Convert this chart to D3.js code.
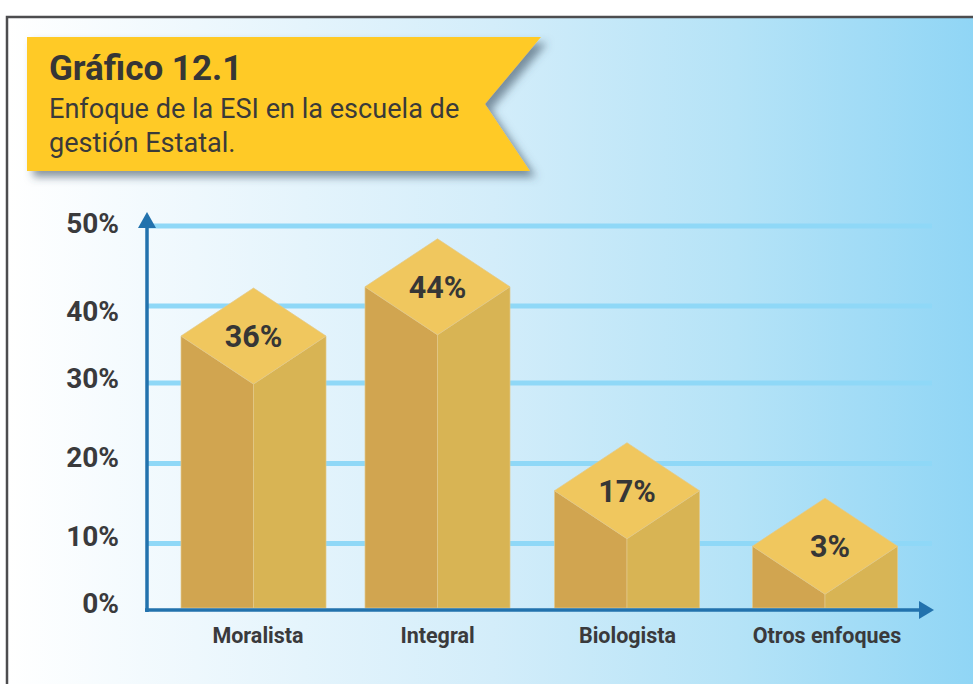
<!DOCTYPE html>
<html lang="es"><head><meta charset="utf-8">
<script src="https://cdn.jsdelivr.net/npm/d3@7/dist/d3.min.js"></script>
<style>html,body{margin:0;padding:0;background:#fff}svg{display:block}text{font-family:Roboto,sans-serif}</style>
</head><body><svg id="c" width="973" height="684"></svg>
<script>
const categories = ["Moralista","Integral","Biologista","Otros enfoques"];
const valueLabels = ["36%","44%","17%","3%"];
// height of each drawn column read against the (unevenly spaced) printed axis
const drawnLevels = [36.1,42.4,16.6,9.6];
const tickValues = [0,10,20,30,40,50];
const tickLabels = ["0%","10%","20%","30%","40%","50%"];
const titleText = "Gráfico 12.1";
const subtitleLines = ["Enfoque de la ESI en la escuela de","gestión Estatal."];

const svg = d3.select("#c");
const W=973,H=684;
const defs = svg.append("defs");
const g = defs.append("linearGradient").attr("id","bg");
[[0,"#ffffff"],[.5,"#d3edfa"],[.75,"#b5e3f7"],[1,"#8fd5f5"]].forEach(s=>g.append("stop").attr("offset",s[0]).attr("stop-color",s[1]));
const f = defs.append("filter").attr("id","sh").attr("x","-5%").attr("y","-10%").attr("width","115%").attr("height","130%");
f.append("feDropShadow").attr("dx",6).attr("dy",6).attr("stdDeviation",4).attr("flood-color","#3a5060").attr("flood-opacity",.6);

svg.append("rect").attr("x",7).attr("y",17).attr("width",W).attr("height",H).attr("fill","url(#bg)").attr("stroke","#4d4d4f").attr("stroke-width",2.5);

// banner
svg.append("path").attr("d",d3.line()([[27,37],[541,37],[485,104],[530,171],[27,171]])+"Z").attr("fill","#ffca28").attr("filter","url(#sh)");
svg.append("text").attr("x",49).attr("y",80).attr("font-size",35).attr("font-weight",700).attr("fill","#363636").text(titleText);
subtitleLines.forEach((t,i)=>svg.append("text").attr("x",49).attr("y",118+i*33.5).attr("font-size",27.1).attr("fill","#3a3a3a").text(t));

// scales: the printed axis is unevenly spaced
const y = d3.scaleLinear().domain(tickValues).range([610,543.5,463.5,383,306,226]);
const yLabel = d3.scaleOrdinal().domain(tickValues).range([604,537,458,379,312,224]);
const x = d3.scaleOrdinal().domain(categories).range([253.5,437.5,627,825]);
const xLabel = d3.scaleOrdinal().domain(categories).range([258,437.5,627.5,827]);

// gridlines
const axisColor="#2272ad";
svg.append("g").selectAll("line").data(tickValues.filter(d=>d>0)).join("line")
  .attr("x1",147).attr("x2",932).attr("y1",d=>y(d)).attr("y2",d=>y(d))
  .attr("stroke","#8fd8f7").attr("stroke-width",5);

// tick labels through a d3 axis
const yAxis = d3.axisLeft(d3.scaleIdentity()).tickValues(tickValues.map(v=>yLabel(v)))
  .tickFormat((d,i)=>tickLabels[i]).tickSize(0).tickPadding(0);
const ya = svg.append("g").attr("transform","translate(119,0)").call(yAxis);
ya.select(".domain").remove();
ya.selectAll("text").attr("font-size",28).attr("font-weight",700).attr("fill","#3a3a3c").attr("font-family","Roboto,sans-serif");

// columns
const hw=72.5, dy=48, base=y(0)-2;
const bars = svg.append("g").selectAll("g").data(categories.map((c,i)=>({c,i,l:drawnLevels[i],t:valueLabels[i]}))).join("g");
const edge="#e3c98a";
const line=d3.line();
bars.append("path").attr("fill","#d1a550").attr("stroke",edge).attr("stroke-width",.7)
  .attr("d",d=>{const X=x(d.c),Y=y(d.l);return line([[X-hw,Y],[X,Y+dy],[X,base],[X-hw,base]])+"Z"});
bars.append("path").attr("fill","#d8b454").attr("stroke",edge).attr("stroke-width",.7)
  .attr("d",d=>{const X=x(d.c),Y=y(d.l);return line([[X+hw,Y],[X,Y+dy],[X,base],[X+hw,base]])+"Z"});
bars.append("path").attr("fill","#f0c75e").attr("stroke",edge).attr("stroke-width",.7)
  .attr("d",d=>{const X=x(d.c),Y=y(d.l);return line([[X-hw,Y],[X,Y-dy],[X+hw,Y],[X,Y+dy]])+"Z"});
const valueDx=[0,0,0,5];
bars.append("text").attr("x",d=>x(d.c)+valueDx[d.i]).attr("y",d=>y(d.l)+11).attr("text-anchor","middle")
  .attr("font-size",30.5).attr("font-weight",700).attr("fill","#363636").text(d=>d.t);

// axis lines and arrows
svg.append("line").attr("x1",147).attr("x2",147).attr("y1",226).attr("y2",612).attr("stroke",axisColor).attr("stroke-width",3.5);
svg.append("line").attr("x1",145).attr("x2",920).attr("y1",610).attr("y2",610).attr("stroke",axisColor).attr("stroke-width",3.5);
svg.append("path").attr("d",line([[147,212],[156,228],[138,228]])+"Z").attr("fill",axisColor);
svg.append("path").attr("d",line([[934,610],[919,601],[919,619]])+"Z").attr("fill",axisColor);

// category labels
svg.append("g").selectAll("text").data(categories).join("text")
  .attr("x",d=>xLabel(d)).attr("y",643).attr("text-anchor","middle")
  .attr("font-size",21.5).attr("font-weight",700).attr("fill","#3a3a3c").text(d=>d);
</script></body></html>
